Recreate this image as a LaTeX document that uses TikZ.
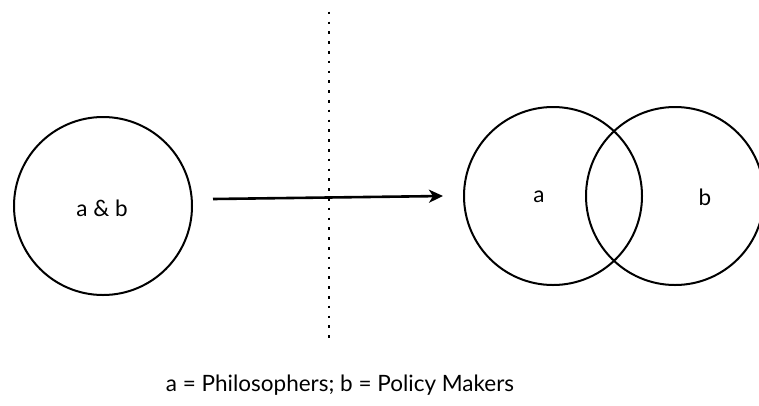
\documentclass[tikz,border=0pt]{standalone}
\usepackage{fontspec}
\setmainfont{Lato}
\usetikzlibrary{arrows.meta}
\begin{document}
\begin{tikzpicture}[x=1pt,y=-1pt,
  setcircle/.style={circle,draw,line width=2pt,minimum size=178pt,inner sep=0pt},
  settext/.style={font=\fontsize{22.5}{26}\selectfont,inner sep=0pt},
  moveline/.style={line width=2.6pt,-{Stealth[length=14pt,width=13pt,inset=4pt]}},
  divider/.style={line width=2.6pt,dash pattern=on 2.6pt off 7.2pt}]
  \useasboundingbox (0,0) rectangle (759,405);
  \clip (0,0) rectangle (759,405);
  % single combined set on the left
  \node[setcircle] (joint) at (103,206) {};
  \node[settext] (jointlbl) at (102,208) {a \& b};
  % two overlapping sets on the right
  \node[setcircle] (seta) at (553,196) {};
  \node[setcircle] (setb) at (675,196) {};
  \node[settext] (albl) at (539,197) {a};
  \node[settext] (blbl) at (705,197) {b};
  % transition arrow
  \coordinate (arrstart) at (213,199);
  \coordinate (arrend) at (443,196);
  \draw[moveline] (arrstart) -- (arrend);
  % dotted divider
  \coordinate (divtop) at (329,11.7);
  \coordinate (divbot) at (329,340);
  \draw[divider] (divtop) -- (divbot);
  % legend
  \node[settext,anchor=base] (legend) at (340,391) {a = Philosophers; b = Policy Makers};
\end{tikzpicture}
\end{document}
